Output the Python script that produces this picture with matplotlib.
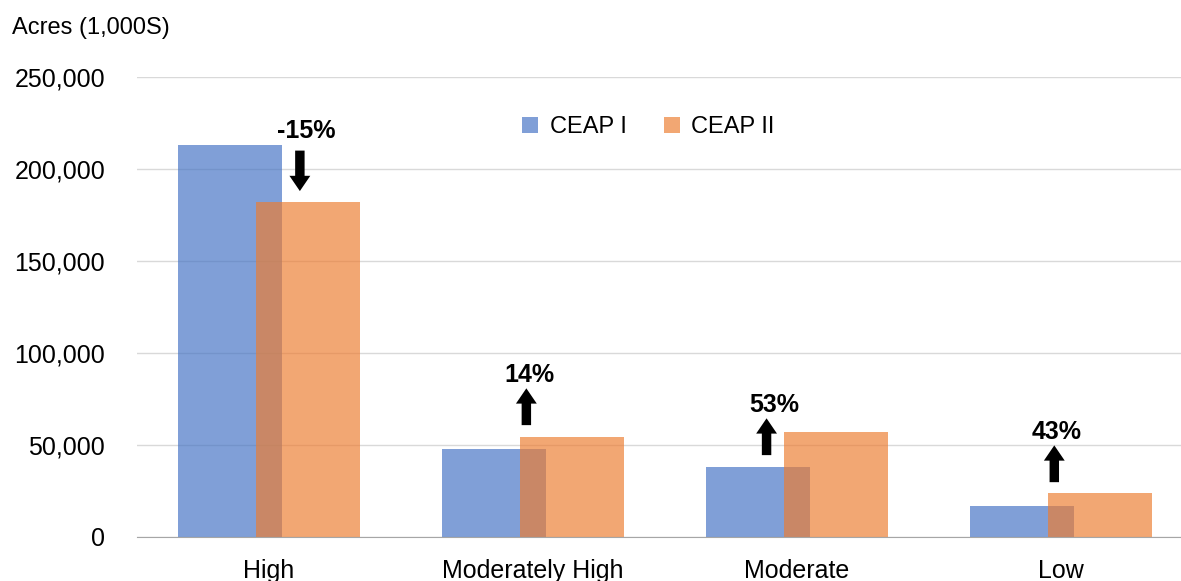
import numpy as np
import matplotlib.pyplot as plt

plt.rcParams['font.family'] = ['Liberation Sans', 'DejaVu Sans']

# data (acres, 1,000s)
categories = ["High", "Moderately High", "Moderate", "Low"]
ceap1 = [213000, 47800, 38000, 16800]
ceap2 = [182000, 54300, 57000, 23900]
changes = ["-15%", "14%", "53%", "43%"]

blue = '#4472C4'
orange = '#ED7D31'

fig = plt.figure(figsize=(11.81, 5.81), dpi=100)
ax = fig.add_axes([137 / 1181, 44 / 581, 1 - 137 / 1181, 460 / 581])

x = np.arange(len(categories))
w = 0.394
off = 0.148
ax.bar(x - off, ceap1, w, color=blue, alpha=0.68, label="CEAP I", zorder=2)
ax.bar(x + off, ceap2, w, color=orange, alpha=0.68, label="CEAP II", zorder=3)

# arrows + percentage labels
for i, lab in enumerate(changes):
    a, b = ceap1[i], ceap2[i]
    ax_x = x[i] + (0.117 if i == 0 else -0.025 - (0.09 if i == 2 else 0))
    if b < a:
        start, end = 210000, 188000
        ty = 220500
        tx = ax_x + 0.025
    else:
        start = a + 13000 if i != 2 else a + 6500
        end = start + 20000
        ty = end + 7000
        tx = ax_x + 0.01 + (0.02 if i == 2 else 0)
    ax.annotate("", xy=(ax_x, end), xytext=(ax_x, start),
                arrowprops=dict(arrowstyle="simple,head_length=0.55,head_width=0.75,tail_width=0.34",
                                color='black', lw=0, mutation_scale=20,
                                shrinkA=0, shrinkB=0), zorder=5)
    ax.text(tx, ty, lab, ha='center', va='center', fontsize=18,
            fontweight='bold', zorder=5)

ax.set_ylim(0, 250000)
ax.set_xlim(-0.5, 3.455)
ax.set_yticks(np.arange(0, 250001, 50000))
ax.set_yticklabels([f"{v:,}" for v in range(0, 250001, 50000)])
ax.set_xticks(x)
ax.set_xticklabels(categories)
ax.tick_params(axis='both', length=0, labelsize=18, colors='black')
ax.tick_params(axis='y', pad=23)
ax.tick_params(axis='x', pad=16)
ax.grid(axis='y', color='#d9d9d9', lw=1, zorder=0)
for s in ['top', 'right', 'left']:
    ax.spines[s].set_visible(False)
ax.spines['bottom'].set_color('#a6a6a6')
ax.spines['bottom'].set_zorder(4)

ax.legend(loc='center', bbox_to_anchor=(0.49, 0.891), ncol=2, frameon=False,
          fontsize=17, handlelength=0.65, handleheight=0.65, columnspacing=1.6,
          handletextpad=0.5)

fig.text(12 / 1181, 1 - 28 / 581, "Acres (1,000S)", fontsize=17, va='center', ha='left')

plt.savefig("out.png", dpi=100)
